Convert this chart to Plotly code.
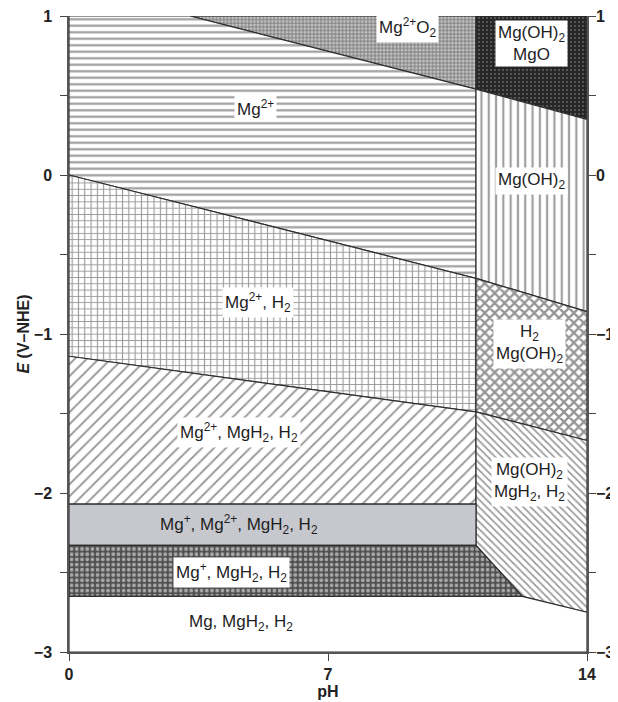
import plotly.graph_objects as go

# ---- data (pH, E in V vs NHE) ----
ph_mg2_o2 = [3.27, 11, 11]
e_mg2_o2 = [1.0, 1.0, 0.54]

ph_mgoh2_mgo = [11, 14, 14, 11]
e_mgoh2_mgo = [1.0, 1.0, 0.35, 0.54]

ph_mg2 = [0, 3.27, 11, 11, 0]
e_mg2 = [1.0, 1.0, 0.54, -0.65, 0.0]

ph_mgoh2 = [11, 14, 14, 11]
e_mgoh2 = [0.54, 0.35, -0.86, -0.65]

ph_mg2_h2 = [0, 11, 11, 0]
e_mg2_h2 = [0.0, -0.65, -1.49, -1.14]

ph_h2_mgoh2 = [11, 14, 14, 11]
e_h2_mgoh2 = [-0.65, -0.86, -1.67, -1.49]

ph_mg2_mgh2 = [0, 11, 11, 0]
e_mg2_mgh2 = [-1.14, -1.49, -2.07, -2.07]

ph_mgoh2_mgh2 = [11, 14, 14, 12.25, 11]
e_mgoh2_mgh2 = [-1.49, -1.67, -2.75, -2.65, -2.33]

ph_mgp_mg2 = [0, 11, 11, 0]
e_mgp_mg2 = [-2.07, -2.07, -2.33, -2.33]

ph_mgp_mgh2 = [0, 11, 12.25, 0]
e_mgp_mgh2 = [-2.33, -2.33, -2.65, -2.65]

ph_mg_mgh2 = [0, 12.25, 14, 14, 0]
e_mg_mgh2 = [-2.65, -2.65, -2.75, -3.0, -3.0]

label_text = [
    "Mg<sup>2+</sup>O<sub>2</sub>",
    "Mg(OH)<sub>2</sub><br>MgO",
    "Mg<sup>2+</sup>",
    "Mg(OH)<sub>2</sub>",
    "Mg<sup>2+</sup>, H<sub>2</sub>",
    "H<sub>2</sub><br>Mg(OH)<sub>2</sub>",
    "Mg<sup>2+</sup>, MgH<sub>2</sub>, H<sub>2</sub>",
    "Mg(OH)<sub>2</sub><br>MgH<sub>2</sub>, H<sub>2</sub>",
    "Mg<sup>+</sup>, Mg<sup>2+</sup>, MgH<sub>2</sub>, H<sub>2</sub>",
    "Mg<sup>+</sup>, MgH<sub>2</sub>, H<sub>2</sub>",
    "Mg, MgH<sub>2</sub>, H<sub>2</sub>",
]
label_ph = [9.15, 12.5, 5.05, 12.5, 5.1, 12.45, 4.6, 12.45, 4.6, 4.4, 4.65]
label_e = [0.93, 0.83, 0.42, -0.04, -0.80, -1.06, -1.62, -1.93, -2.195, -2.50, -2.82]
label_box = [True, True, True, True, True, True, True, True, False, True, False]

y_ticks = [-3, -2, -1, 0, 1]
y_minor = [-2.5, -1.5, -0.5, 0.5]
x_ticks = [0, 7, 14]

regions = [
    (ph_mg2_o2, e_mg2_o2, dict(shape=".", size=3.6, solidity=0.45, fgcolor="#ffffff", bgcolor="#8a8a8a")),
    (ph_mgoh2_mgo, e_mgoh2_mgo, dict(shape=".", size=4, solidity=0.22, fgcolor="#9a9a9a", bgcolor="#262626")),
    (ph_mg2, e_mg2, dict(shape="-", size=6.5, solidity=0.34, fgcolor="#3e3e3e", bgcolor="#ffffff")),
    (ph_mgoh2, e_mgoh2, dict(shape="|", size=7.3, solidity=0.3, fgcolor="#3e3e3e", bgcolor="#ffffff")),
    (ph_mg2_h2, e_mg2_h2, dict(shape="+", size=6.3, solidity=0.32, fgcolor="#333333", bgcolor="#ffffff")),
    (ph_h2_mgoh2, e_h2_mgoh2, dict(shape="x", size=7, solidity=0.55, fgcolor="#2e2e2e", bgcolor="#ffffff")),
    (ph_mg2_mgh2, e_mg2_mgh2, dict(shape="/", size=8.5, solidity=0.22, fgcolor="#333333", bgcolor="#ffffff")),
    (ph_mgoh2_mgh2, e_mgoh2_mgh2, dict(shape="\\", size=5.2, solidity=0.33, fgcolor="#333333", bgcolor="#ffffff")),
    (ph_mgp_mg2, e_mgp_mg2, None),
    (ph_mgp_mgh2, e_mgp_mgh2, dict(shape=".", size=5.2, solidity=0.42, fgcolor="#ffffff", bgcolor="#505050")),
    (ph_mg_mgh2, e_mg_mgh2, None),
]

fig = go.Figure()
for i, (px, py, pat) in enumerate(regions):
    kw = dict(x=px + [px[0]], y=py + [py[0]], mode="lines", fill="toself",
              line=dict(color="#2e2e2e", width=1.2), hoverinfo="skip", showlegend=False)
    if pat is not None:
        kw["fillpattern"] = pat
        kw["fillcolor"] = "rgba(0,0,0,0)"
    else:
        kw["fillcolor"] = "#c6c8ce" if i == 8 else "#ffffff"
    fig.add_trace(go.Scatter(**kw))

# invisible trace for the right-hand axis
fig.add_trace(go.Scatter(x=[0, 14], y=[-3, 1], yaxis="y2", mode="markers",
                         marker=dict(opacity=0), hoverinfo="skip", showlegend=False))

label_font = dict(family="Liberation Sans, Arial", size=17, color="#1e1e1e")
for t, x, y, box in zip(label_text, label_ph, label_e, label_box):
    fig.add_annotation(x=x, y=y, text=t, showarrow=False, font=label_font,
                       bgcolor="#ffffff" if box else "rgba(0,0,0,0)", borderpad=2)

tickfont = dict(family="Liberation Sans, Arial", size=16, color="#222222", weight="bold")
axis_common = dict(ticks="outside", ticklen=7, tickcolor="#444", showgrid=False, zeroline=False,
                   showline=True, linecolor="#555", linewidth=1.5, tickfont=tickfont,
                   automargin=False, ticklabeloverflow="allow")
fig.update_layout(
    width=610, height=694,
    margin=dict(l=61, r=31, t=8, b=50),
    paper_bgcolor="#ffffff", plot_bgcolor="#ffffff",
    xaxis=dict(range=[0, 14], tickvals=x_ticks, ticktext=[str(v) for v in x_ticks],
               title=dict(text="pH", font=tickfont, standoff=0), **axis_common),
    yaxis=dict(range=[-3, 1], tickvals=y_ticks, ticklabelstandoff=5,
               minor=dict(tickvals=y_minor, ticks="outside", ticklen=7, tickcolor="#444"),
               title=dict(text="<i>E</i> (V–NHE)", font=tickfont, standoff=0), **axis_common),
    yaxis2=dict(range=[-3, 1], overlaying="y", side="right", tickvals=y_ticks, ticklabelstandoff=-3,
                minor=dict(tickvals=y_minor, ticks="outside", ticklen=7, tickcolor="#444"),
                **axis_common),
)

fig.write_html("out.html")
